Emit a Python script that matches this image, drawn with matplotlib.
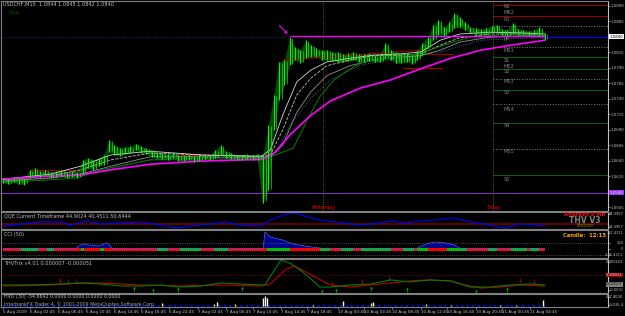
import numpy as np
import matplotlib
matplotlib.use('Agg')
import matplotlib.pyplot as plt
import matplotlib.transforms as transforms

matplotlib.rc('font', family='DejaVu Sans', size=4)

# ---- price (USDCHF M15), one sample every 3 bars ----
highs = [1.0612, 1.0610, 1.0612, 1.0612, 1.0610, 1.0625, 1.0628, 1.0623, 1.0625, 1.0622,
         1.0623, 1.0625, 1.0622, 1.0623, 1.0622, 1.0641, 1.0644, 1.0641, 1.0644, 1.0649,
         1.0673, 1.0665, 1.0660, 1.0662, 1.0663, 1.0667, 1.0663, 1.0660, 1.0657, 1.0654,
         1.0652, 1.0650, 1.0652, 1.0649, 1.0649, 1.0650, 1.0647, 1.0649, 1.0650, 1.0649,
         1.0657, 1.0665, 1.0655, 1.0652, 1.0649, 1.0649, 1.0650, 1.0649, 1.0650, 1.0649,
         1.0697, 1.0746, 1.0799, 1.0802, 1.0839, 1.0823, 1.0818, 1.0834, 1.0826, 1.0821,
         1.0818, 1.0818, 1.0815, 1.0815, 1.0812, 1.0813, 1.0815, 1.0812, 1.0812, 1.0813,
         1.0810, 1.0812, 1.0830, 1.0818, 1.0815, 1.0812, 1.0813, 1.0810, 1.0818, 1.0830,
         1.0839, 1.0859, 1.0867, 1.0855, 1.0863, 1.0878, 1.0871, 1.0863, 1.0855, 1.0854,
         1.0852, 1.0854, 1.0857, 1.0859, 1.0852, 1.0851, 1.0862, 1.0852, 1.0851, 1.0849,
         1.0851, 1.0855, 1.0846]
lows = [1.0604, 1.0602, 1.0605, 1.0602, 1.0601, 1.0612, 1.0615, 1.0614, 1.0615, 1.0612,
        1.0614, 1.0615, 1.0612, 1.0614, 1.0612, 1.0618, 1.0628, 1.0625, 1.0631, 1.0633,
        1.0654, 1.0649, 1.0647, 1.0650, 1.0652, 1.0657, 1.0652, 1.0650, 1.0646, 1.0644,
        1.0642, 1.0641, 1.0644, 1.0639, 1.0639, 1.0641, 1.0638, 1.0639, 1.0642, 1.0641,
        1.0644, 1.0649, 1.0644, 1.0642, 1.0641, 1.0641, 1.0642, 1.0641, 1.0641, 1.0572,
        1.0592, 1.0689, 1.0738, 1.0762, 1.0794, 1.0802, 1.0797, 1.0805, 1.0807, 1.0807,
        1.0802, 1.0802, 1.0800, 1.0799, 1.0799, 1.0800, 1.0802, 1.0799, 1.0799, 1.0800,
        1.0799, 1.0799, 1.0805, 1.0802, 1.0797, 1.0797, 1.0799, 1.0796, 1.0802, 1.0810,
        1.0821, 1.0834, 1.0843, 1.0839, 1.0847, 1.0854, 1.0855, 1.0851, 1.0846, 1.0843,
        1.0843, 1.0844, 1.0846, 1.0847, 1.0841, 1.0839, 1.0844, 1.0843, 1.0843, 1.0841,
        1.0843, 1.0841, 1.0834]
bars = np.arange(len(highs)) * 3

# moving averages (bar index, price)
ma_slow_x = [0, 21, 44, 61, 83, 112, 147, 154, 162, 174, 185, 202, 219, 236, 253, 270, 287, 306]
ma_slow_y = [1.0610, 1.0614, 1.0617, 1.0625, 1.0634, 1.0639, 1.0642, 1.0654, 1.0681, 1.0713,
             1.0736, 1.0757, 1.0770, 1.0788, 1.0805, 1.0818, 1.0826, 1.0834]
ma_green_x = [0, 28, 42, 55, 83, 112, 147, 151, 164, 172, 179, 187, 195, 202, 209, 219, 236,
              253, 264, 281, 306]
ma_green_y = [1.0605, 1.0609, 1.0612, 1.0625, 1.0641, 1.0644, 1.0644, 1.0646, 1.0660, 1.0706,
              1.0743, 1.0770, 1.0786, 1.0797, 1.0802, 1.0805, 1.0813, 1.0830, 1.0839, 1.0843,
              1.0843]
ma_gray_x = [0, 27, 44, 61, 83, 112, 146, 151, 158, 166, 174, 183, 196, 209, 224, 236, 247,
             258, 275, 292, 306]
ma_gray_y = [1.0609, 1.0615, 1.0625, 1.0641, 1.0652, 1.0649, 1.0646, 1.0649, 1.0689, 1.0746,
             1.0773, 1.0793, 1.0802, 1.0809, 1.0810, 1.0812, 1.0826, 1.0838, 1.0844, 1.0844,
             1.0843]
ma_fast_y = [1.0610, 1.0618, 1.0631, 1.0649, 1.0655, 1.0649, 1.0647, 1.0657, 1.0713, 1.0767,
             1.0786, 1.0799, 1.0805, 1.0810, 1.0812, 1.0815, 1.0834, 1.0844, 1.0847, 1.0846,
             1.0844]
ma_lag_y = [1.0607, 1.0612, 1.0618, 1.0631, 1.0646, 1.0646, 1.0644, 1.0646, 1.0665, 1.0718,
            1.0751, 1.0777, 1.0793, 1.0802, 1.0807, 1.0809, 1.0818, 1.0831, 1.0839, 1.0841,
            1.0841]
ma_blue_x = [0, 44, 83, 146, 154, 162, 174, 185, 202, 224, 247, 270, 306]
ma_blue_y = [1.0605, 1.0615, 1.0641, 1.0641, 1.0649, 1.0697, 1.0741, 1.0770, 1.0794, 1.0805,
             1.0815, 1.0834, 1.0839]

# dark red trend segments ((bar0, price0), (bar1, price1))
red_segments = [((158, 1.0802), (236, 1.0818)),
                ((226, 1.0789), (248, 1.0789)),
                ((240, 1.0812), (254, 1.0812)),
                ((0, 1.0612), (13, 1.0612)),
                ((16, 1.0625), (42, 1.0625)),
                ((100, 1.0649), (128, 1.0649))]

# pivot levels for today
pivot_levels = [1.0891, 1.0873, 1.0857, 1.0823, 1.0807, 1.0788, 1.0772, 1.0754, 1.0731,
                1.0701, 1.0659, 1.0617]
pivot_kind = ['R', 'R', 'M', 'M', 'S', 'S', 'M', 'S', 'M', 'S', 'M', 'S']
pivot_names = ['R2', 'MR2', 'R1', 'PP', 'MS1', 'S1', 'MS2', 'S2', 'MS3', 'S3', 'MS4', 'S4',
               'MS5', 'S5']
pivot_name_y = [1.0888, 1.0878, 1.0868, 1.0836, 1.0818, 1.0802, 1.0791, 1.0783, 1.0767,
                1.0749, 1.0723, 1.0696, 1.0654, 1.0610]

price_ticks = [1.0890, 1.0865, 1.0815, 1.0790, 1.0765, 1.0740, 1.0715, 1.0690, 1.0665,
               1.0640, 1.0615, 1.0565]
current_price = 1.0840
spike_high = 1.0841
purple_level = 1.0588
yesterday_bar = 181
today_bar = 277

time_ticks = [0, 15, 31, 47, 63, 78, 94, 110, 126, 141, 157, 172, 189, 204, 220, 236, 251,
              267, 282, 298]
time_labels = ['5 Aug 2009', '6 Aug 02:45', '6 Aug 06:45', '6 Aug 10:45', '6 Aug 14:45',
               '6 Aug 18:45', '6 Aug 22:45', '7 Aug 02:45', '7 Aug 06:45', '7 Aug 10:45',
               '7 Aug 14:45', '7 Aug 18:45', '10 Aug 00:45', '10 Aug 04:45', '10 Aug 08:45',
               '10 Aug 12:45', '10 Aug 16:45', '10 Aug 20:45', '11 Aug 00:45', '11 Aug 04:45']

# ---- QQE ----
qqe_x = [0, 16, 21, 33, 38, 47, 55, 67, 78, 89, 98, 106, 117, 126, 134, 146, 151, 160, 165,
         174, 179, 188, 202, 213, 219, 227, 236, 244, 255, 264, 275, 284, 292, 301, 306]
qqe_y = [44.3, 52.9, 55.8, 55.8, 47.1, 58.6, 50.0, 52.9, 55.8, 47.1, 38.5, 44.3, 50.0, 55.8,
         47.1, 44.3, 61.5, 78.8, 81.6, 67.3, 61.5, 55.8, 47.1, 52.9, 58.6, 52.9, 58.6, 61.5,
         67.3, 55.8, 47.1, 38.5, 50.0, 47.1, 44.3]
qqe_scale = [(78, '84.4957'), (42, '28.4957')]

# ---- CCI ----
cci_x = [0, 41, 43, 45, 49, 54, 59, 62, 147, 148, 151, 158, 164, 174, 179, 185, 233, 239,
         244, 250, 255, 259, 306]
cci_y = [0, 0, 50, 82, 66, 50, 99, 0, 0, 280, 198, 148, 82, 33, 16, 0, 0, 82, 115, 100, 66,
         0, 0]
cci_green = [(10, 20), (25, 29), (44, 46), (55, 57), (87, 93), (100, 112), (119, 127),
             (149, 162), (179, 185), (191, 198), (202, 219), (226, 232), (234, 240),
             (251, 262), (274, 279), (287, 296), (298, 303)]
cci_scale = [(260, '327.4211'), (100, '100'), (0, '0'), (-100, '-285.4211')]

# ---- THV Trix (millionths) ----
trix_gx = [0, 16, 33, 44, 55, 67, 78, 89, 100, 112, 123, 134, 146, 148, 157, 162, 168, 174,
           179, 185, 196, 208, 219, 230, 241, 253, 264, 275, 287, 298, 306]
trix_g = [7, 7, 11, 15, 11, 3, 3, 7, -1, 3, 15, 11, 7, 7, 106, 94, 66, 31, -1, -1, 7, 11, 27,
          19, 27, 23, -1, -1, 7, 11, 7]
trix_rx = [0, 27, 44, 55, 78, 100, 123, 146, 151, 160, 165, 174, 185, 196, 208, 219, 230,
           241, 253, 261, 270, 281, 292, 306]
trix_r = [3, 7, 15, 15, 7, 3, 7, 3, 11, 70, 82, 47, 7, -1, 7, 15, 23, 27, 23, 7, -5, -1, 7, 3]
sell_x = [32, 37, 41, 186, 203, 218, 292, 300]
sell_y = [19, 15, 15, 7, 15, 27, 19, 15]
buy_x = [74, 85, 99, 135, 180, 188, 208, 228, 267, 285]
buy_y = [-5, -13, -9, -5, -17, -13, -5, -9, -17, -9]
trix_scale = [(98e-6, '0.000102'), (-12e-6, '-0.0001')]

# ---- HVO ----
hvo_x = [90, 119, 121, 131, 147, 148, 149, 175, 192, 208, 209, 239, 253, 281, 290, 305]
hvo_y = [120, 80, 160, 80, 320, 400, 320, 40, 200, 120, 160, 80, 40, 40, 40, 240]
hvo_c = ['y', 'y', 'w', 'y', 'w', 'w', 'w', 'w', 'w', 'y', 'w', 'y', 'y', 'y', 'y', 'w']
hvo_scale = [(360, '477.8000'), (60, '-5035.4')]

# ---------------------------------------------------------------------------
W, H = 625, 316
TS = 2.9  # MT4 small font on the price scale
fig = plt.figure(figsize=(W / 100, H / 100), dpi=100, facecolor='black')


def panel(top, bottom):
    ax = fig.add_axes([1 / W, 1 - bottom / H, 607 / W, (bottom - top) / H])
    ax.set_facecolor('black')
    for s in ['left', 'top', 'bottom']:
        ax.spines[s].set_color('#808080')
    ax.spines['right'].set_color('#C0C0C0')
    ax.set_xlim(-1.1, 341.8)
    ax.yaxis.tick_right()
    ax.tick_params(axis='y', colors='#C0C0C0', labelsize=TS, length=1.2, width=0.5, pad=0.5)
    ax.tick_params(axis='x', bottom=False, labelbottom=False)
    return ax


def right_scale(axis, marks):
    # indicator scale labels, right-aligned at the window edge
    axis.set_yticks([v for v, _ in marks])
    axis.set_yticklabels([])
    tr = transforms.blended_transform_factory(fig.transFigure, axis.transData)
    for v, s in marks:
        axis.text(623.5 / W, v, s, transform=tr, ha='right', va='center', fontsize=2.6,
                  color='#C0C0C0')


def right_box(axis, value, s, fc, tc):
    tr = transforms.blended_transform_factory(fig.transFigure, axis.transData)
    axis.text(623 / W, value, s, transform=tr, ha='right', va='center', fontsize=2.5,
              color=tc, bbox=dict(boxstyle='square,pad=0.1', fc=fc, ec='none'))


ax = panel(1, 211)
ax_q = panel(212, 229)
ax_c = panel(230, 258)
ax_t = panel(259, 293)
ax_h = panel(294, 307)

# main chart
ax.set_ylim(1.05586, 1.08973)
trans = transforms.blended_transform_factory(ax.transData, ax.transAxes)
rtrans = transforms.blended_transform_factory(ax.transAxes, ax.transData)

for lvl, kind in zip(pivot_levels, pivot_kind):
    col = {'R': '#A00000', 'S': '#006400', 'M': '#808080'}[kind]
    ls = ':' if kind == 'M' else '-'
    ax.hlines(lvl, today_bar, 341.8, colors=col, linestyles=ls, lw=0.7)
for name, py in zip(pivot_names, pivot_name_y):
    ax.text(today_bar + 6, py, name, color='#808080', fontsize=3.6, ha='left', va='center')

ax.axhline(current_price, color='#1E3A8A', lw=0.6, ls=':')
ax.axhline(purple_level, color='#7B2FBF', lw=0.8)
ax.hlines(current_price, bars[-1], 341.8, colors='#0000FF', lw=0.9)

for b in [yesterday_bar, today_bar]:
    ax.vlines(b, 0, 1, colors='#808000', linestyles=':', lw=0.6, transform=trans)
ax.text(yesterday_bar, 0.005, 'Yesterday', color='#FF0000', ha='center', va='bottom',
        transform=trans, fontsize=3.6)
ax.text(today_bar, 0.005, 'Today', color='#FF0000', ha='center', va='bottom',
        transform=trans, fontsize=3.6)

for (x0, y0), (x1, y1) in red_segments:
    ax.plot([x0, x1], [y0, y1], color='#A00000', lw=0.8)

# zigzag around the spike
ax.plot([144, 147, 152], [1.0650, 1.0572, 1.0650], color='#808000', ls=':', lw=0.6)

ax.plot(ma_blue_x, ma_blue_y, color='#4682B4', ls=':', lw=0.6)
ax.plot(ma_gray_x, ma_lag_y, color='#909090', lw=0.6)
ax.plot(ma_gray_x, ma_gray_y, color='#C0C0C0', ls='--', lw=0.6)
ax.plot(ma_gray_x, ma_fast_y, color='#D8D8D8', lw=0.6)
ax.plot(ma_green_x, ma_green_y, color='#008000', lw=0.7)
ax.plot(ma_slow_x, ma_slow_y, color='#FF00FF', lw=1.2)

ax.fill_between(bars, lows, highs, color='#006000', lw=0, alpha=0.8)
ax.vlines(bars, lows, highs, colors='#00FF00', lw=0.7)
ax.vlines(bars + 1.5, np.add(lows, 0.0002), np.subtract(highs, 0.0002),
          colors='#32CD32', lw=0.5)

ax.hlines(spike_high, 162, bars[-1], colors='#FF00FF', lw=0.9)
ax.annotate('', xy=(162, spike_high), xytext=(155, 1.0861),
            arrowprops=dict(arrowstyle='->', color='#FF00FF', lw=0.7))

ax.set_yticks(price_ticks)
ax.set_yticklabels(['%.4f' % p for p in price_ticks])
ax.text(1.002, current_price, '%.4f' % current_price, transform=rtrans, fontsize=TS,
        color='black', va='center', ha='left',
        bbox=dict(boxstyle='square,pad=0.15', fc='white', ec='none'))
ax.text(1.002, purple_level, '%.4f' % purple_level, transform=rtrans, fontsize=TS,
        color='#E0E0E0', va='center', ha='left',
        bbox=dict(boxstyle='square,pad=0.15', fc='#9933FF', ec='none'))

ax.text(0.004, 0.995, 'USDCHF,M15  1.0844 1.0845 1.0842 1.0840', transform=ax.transAxes,
        color='#C0C0C0', va='top', ha='left', fontsize=3.6)
ax.text(0.012, 0.955, 'HiLo', transform=ax.transAxes, color='#006400', va='top',
        ha='left', fontsize=3.6)

# QQE
ax_q.set_ylim(35.6, 84.5)
ax_q.axhline(50, color='#700000', lw=1.2)
ax_q.plot(qqe_x, qqe_y, color='#0000FF', lw=0.8)
right_scale(ax_q, qqe_scale)
ax_q.text(0.005, 0.93, 'QQE Current Timeframe 44.9024 40.4511 50.6444',
          transform=ax_q.transAxes, color='#C0C0C0', va='top', fontsize=3.6)
ax_q.text(0.962, 0.98, 'Andrezh 5 Mn', transform=ax_q.transAxes, color='#FF0000',
          fontsize=3.8, fontweight='bold', ha='center', va='top')
ax_q.text(0.962, 0.5, 'THV V3', transform=ax_q.transAxes, color='#808080',
          fontsize=5.5, fontweight='bold', ha='center', va='center')
ax_q.text(0.962, 0.03, 'Bottom', transform=ax_q.transAxes, color='#808000',
          fontsize=3.4, ha='center', va='bottom')

# CCI
ax_c.set_ylim(-148.5, 313.5)
ax_c.axhline(100, color='#606060', ls=':', lw=0.6)
ax_c.axhline(-100, color='#606060', ls=':', lw=0.6)
ax_c.fill_between(cci_x, 0, cci_y, color='#000090', lw=0)
ax_c.plot(cci_x, cci_y, color='#5060FF', lw=0.5)
ax_c.broken_barh([(0, 306)], (-35, 50), facecolors='#FF0000')
ax_c.broken_barh([(a, b - a) for a, b in cci_green], (-35, 50), facecolors='#00C000')
right_scale(ax_c, cci_scale)
ax_c.text(0.005, 0.93, 'CCI (50)', transform=ax_c.transAxes, color='#C0C0C0', va='top',
          fontsize=3.6)
ax_c.text(0.962, 0.8, 'Candle:  12:15', transform=ax_c.transAxes, color='#FFA500',
          fontsize=3.8, fontweight='bold', ha='center', va='center')

# THV Trix
ax_t.set_ylim(-24.7e-6, 109.9e-6)
ax_t.axhline(47e-6, color='#A00000', ls=':', lw=0.6)
ax_t.plot(trix_rx, np.array(trix_r) * 1e-6, color='#C00000', lw=0.8)
ax_t.plot(trix_gx, np.array(trix_g) * 1e-6, color='#008000', lw=0.8)
ax_t.scatter(sell_x, np.array(sell_y) * 1e-6 + 6e-6, marker=r'$\downarrow$', s=10,
             color='#FF0000', lw=0)
ax_t.scatter(buy_x, np.array(buy_y) * 1e-6 - 4e-6, marker=r'$\uparrow$', s=10,
             color='#00FF00', lw=0)
right_scale(ax_t, trix_scale)
right_box(ax_t, 47e-6, '0.000051', '#A00000', '#E0E0E0')
right_box(ax_t, 10e-6, '0.000007', '#808080', '#202020')
ax_t.text(0.005, 0.93, 'THVTrix v4.01 0.000007 -0.000051', transform=ax_t.transAxes,
          color='#C0C0C0', va='top', fontsize=3.6)

# HVO
ax_h.set_ylim(-40, 480)
ax_h.hlines(20, 0, 306, colors='#0000FF', linestyles=':', lw=1.5)
ax_h.vlines(hvo_x, 0, hvo_y, colors=['#FFFF00' if c == 'y' else '#FFFFFF' for c in hvo_c],
            lw=1.0)
right_scale(ax_h, hvo_scale)
ax_h.text(0.005, 0.97, 'HVO (30) -54.6642 0.0000 0.0000 0.0000 0.0000',
          transform=ax_h.transAxes, color='#C0C0C0', va='top', fontsize=3.4)
ax_h.text(0.005, 0.0, 'InterbankFX Trader 4, \u00a9 2001-2009 MetaQuotes Software Corp.',
          transform=ax_h.transAxes, color='#A0A0A0', va='bottom', fontsize=3.4)
ax_h.set_xticks(time_ticks)
ax_h.set_xticklabels(time_labels, ha='left')
ax_h.tick_params(axis='x', bottom=True, labelbottom=True, colors='#C0C0C0', labelsize=3.0,
                 length=1.5, width=0.5, pad=0.8)

plt.savefig('out.png', dpi=100, facecolor='black')
